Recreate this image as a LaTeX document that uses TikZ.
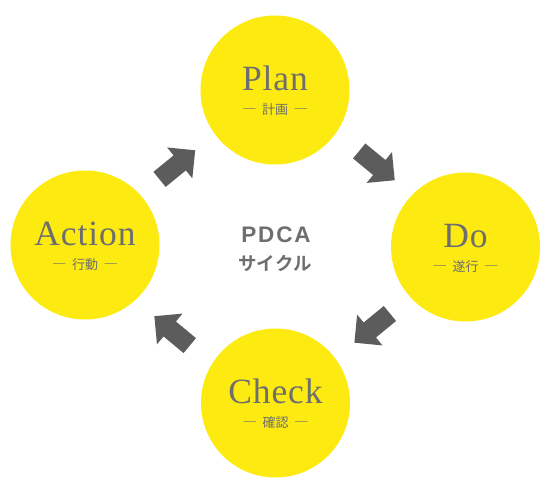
\documentclass[tikz,border=0pt]{standalone}
\usepackage{fontspec}
\usetikzlibrary{shapes.arrows,calc}
\newfontfamily\titlefont{Liberation Serif}[LetterSpace=2.5]
\newfontfamily\jpfont{Noto Sans CJK JP}
\newfontfamily\jpboldfont{Noto Sans CJK JP Bold}
\newfontfamily\pdcafont{Liberation Sans Bold}[LetterSpace=8]
\definecolor{cyellow}{HTML}{FCEA10}
\definecolor{ctext}{HTML}{6E6E6E}
\definecolor{carrow}{HTML}{5C5C5C}
\tikzset{
  phase/.style={circle, fill=cyellow, minimum size=149pt, inner sep=0pt},
  ttl/.style={anchor=base, text=ctext, font=\titlefont\fontsize{35.5}{35.5}\selectfont, inner sep=0pt},
  sub/.style={anchor=center, text=ctext, font=\jpfont\fontsize{13}{13}\selectfont, inner sep=0pt},
  blockarrow/.style={single arrow, fill=carrow, minimum height=46pt, inner xsep=0pt, inner ysep=9.5pt,
    single arrow head extend=10.25pt, single arrow tip angle=90, outer sep=0pt}
}
\newcommand{\subdash}{{\fontsize{14.5}{14.5}\selectfont ―}}
\newcommand{\subline}[1]{\subdash\hspace{5.5pt}#1\hspace{5.5pt}\subdash}
\begin{document}
\begin{tikzpicture}[x=1pt,y=-1pt]
\fill[white] (0,0) rectangle (553,495);
\useasboundingbox (0,0) rectangle (553,495);
\node[phase] (plan) at (275,90) {};
\node[phase] (do) at (465.5,247) {};
\node[phase] (check) at (275.5,403) {};
\node[phase] (action) at (85,245) {};
\foreach \n/\t/\s in {plan/Plan/計画, do/Do/遂行, check/Check/確認, action/Action/行動}{
  \node[ttl] (\n-t) at (\n.center) {\t};
  \node[sub] (\n-s) at ($(\n.center)+(0,19.5)$) {\subline{\s}};
}
\node[text=ctext, font=\pdcafont\fontsize{22.5}{22.5}\selectfont, inner sep=0pt] (pdca) at (276,235) {PDCA};
\node[text=ctext, font=\jpboldfont\fontsize{18.5}{18.5}\selectfont, inner sep=0pt] (cyc) at (275,263) {サイクル};
\node[blockarrow, rotate=39.2] (a1) at (173.6,167.9) {};
\node[blockarrow, rotate=-39.5] (a2) at (373.2,162.5) {};
\node[blockarrow, rotate=-140.6] (a3) at (375.9,325) {};
\node[blockarrow, rotate=140.3] (a4) at (175.8,334) {};
\end{tikzpicture}
\end{document}
